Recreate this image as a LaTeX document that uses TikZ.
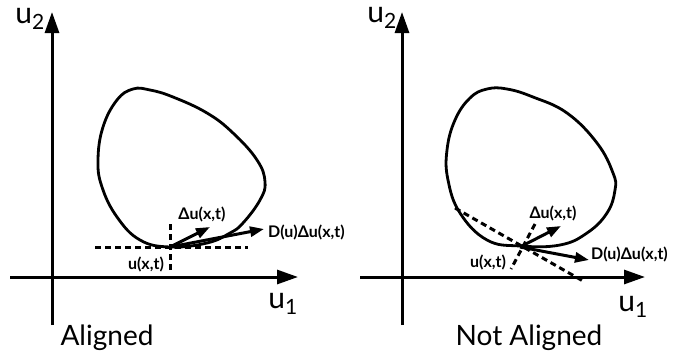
\documentclass[tikz,border=0pt]{standalone}
\usepackage{fontspec}
\setmainfont{Lato}
\usetikzlibrary{arrows.meta}

\begin{document}
\begin{tikzpicture}[x=1pt,y=-1pt,
    axis/.style={line width=3pt,-{Triangle[length=21pt,width=14pt]}},
    vec/.style={line width=3pt,-{Triangle[length=14pt,width=10pt]}},
    guide/.style={line width=3pt,dash pattern=on 6pt off 4pt},
    blob/.style={line width=2.8pt},
    lbl/.style={font=\bfseries\fontsize{16}{18}\selectfont,inner sep=0pt},
    axlbl/.style={font=\fontsize{30}{32}\selectfont,inner sep=0pt},
    ttl/.style={font=\fontsize{28}{30}\selectfont,inner sep=0pt,anchor=base}]
  \useasboundingbox (0,0) rectangle (676,354);

  % left: aligned
  \coordinate (yLa) at (52,325);  \coordinate (yLb) at (52,12);
  \coordinate (xLa) at (10,277);  \coordinate (xLb) at (298,277);
  \draw[axis] (yLa) -- (yLb);
  \draw[axis] (xLa) -- (xLb);
  \node[axlbl] (u2L) at (30,19) {u\textsubscript{2}};
  \node[axlbl] (u1L) at (283,304) {u\textsubscript{1}};
  \draw[blob] plot[smooth cycle,tension=0.7] coordinates {(170,247) (140,240) (117,217) (102,187) (98,160) (103,127) (117,100) (133,89) (150,90) (173,97) (207,113) (233,133) (257,160) (265,182) (260,200) (243,223) (230,233) (207,243)};
  \coordinate (uL) at (170,247);
  \coordinate (hLa) at (95,247);  \coordinate (hLb) at (248,247);
  \coordinate (vLa) at (170,224); \coordinate (vLb) at (170,272);
  \draw[guide] (hLa) -- (hLb);
  \draw[guide] (vLa) -- (vLb);
  \coordinate (duLtip) at (210,227);
  \coordinate (DduLtip) at (264,229);
  \draw[vec] (uL) -- (duLtip);
  \draw[vec] (uL) -- (DduLtip);
  \node[lbl] (uxtL) at (146,264) {u(x,t)};
  \node[lbl] (duL) at (202,214) {Δu(x,t)};
  \node[lbl,anchor=west] (DduL) at (268,232) {D(u)Δu(x,t)};
  \node[ttl] (alignedT) at (107,345) {Aligned};

  % right: not aligned
  \coordinate (yRa) at (402,325); \coordinate (yRb) at (402,12);
  \coordinate (xRa) at (360,277); \coordinate (xRb) at (645,277);
  \draw[axis] (yRa) -- (yRb);
  \draw[axis] (xRa) -- (xRb);
  \node[axlbl] (u2R) at (382,18) {u\textsubscript{2}};
  \node[axlbl] (u1R) at (633,307) {u\textsubscript{1}};
  \draw[blob] plot[smooth cycle,tension=0.7] coordinates {(520,246) (487,240) (460,213) (448,180) (447,150) (455,120) (470,98) (487,89) (507,89) (533,97) (567,113) (597,143) (613,173) (615,190) (607,213) (587,233) (560,245)};
  \coordinate (uR) at (520,247);
  \coordinate (hRa) at (455,208); \coordinate (hRb) at (583,281);
  \coordinate (vRa) at (535,224); \coordinate (vRb) at (511,269);
  \draw[guide] (hRa) -- (hRb);
  \draw[guide] (vRa) -- (vRb);
  \coordinate (duRtip) at (561,226);
  \coordinate (DduRtip) at (589,260);
  \draw[vec] (uR) -- (duRtip);
  \draw[vec] (uR) -- (DduRtip);
  \node[lbl] (uxtR) at (488,262) {u(x,t)};
  \node[lbl] (duR) at (553,213) {Δu(x,t)};
  \node[lbl,anchor=west] (DduR) at (591,254) {D(u)Δu(x,t)};
  \node[ttl] (notalignedT) at (529,345) {Not Aligned};
\end{tikzpicture}
\end{document}
